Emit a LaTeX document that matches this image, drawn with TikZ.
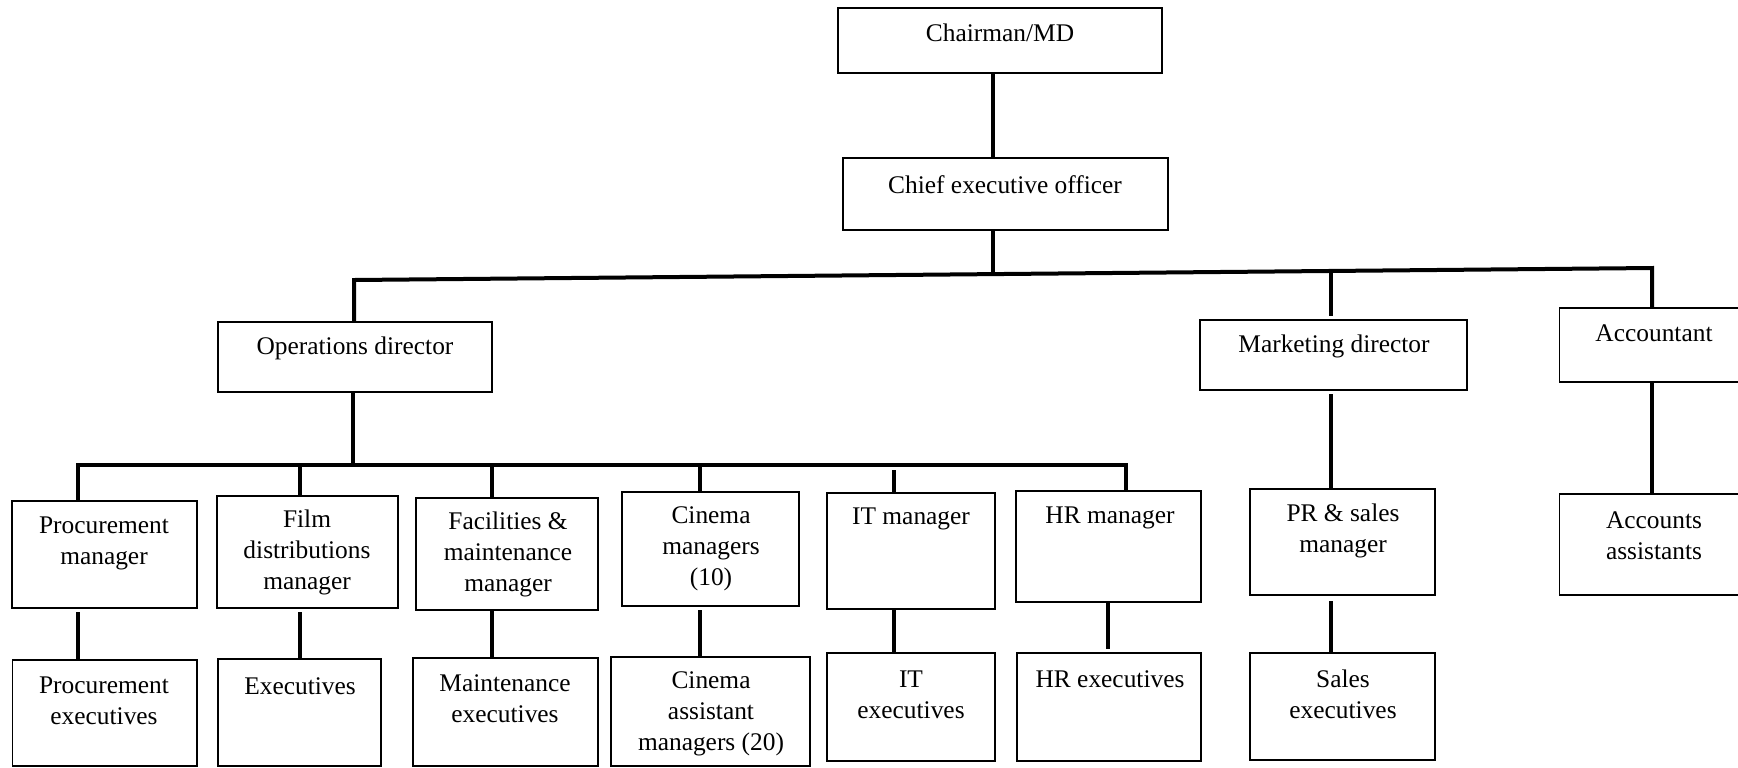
\documentclass[tikz,border=0pt]{standalone}
\usepackage{fontspec}
\setmainfont{Liberation Serif}
\usetikzlibrary{fit}
\begin{document}
\begin{tikzpicture}[x=0.5pt,y=-0.5pt,
  box/.style={draw, line width=0.6pt, inner sep=0pt, outer sep=0pt},
  lbl/.style={font=\fontsize{12.7}{15.5}\selectfont, align=center, inner sep=0pt},
  conn/.style={line width=2pt}]
\useasboundingbox (0,0) rectangle (1738,767);
\fill[white] (0,0) rectangle (1738,767);
% boxes
\node[box, fit={(838,8) (1162,73)}] (chair) {};
\node[box, fit={(843,158) (1168,230)}] (ceo) {};
\node[box, fit={(218,322) (492,392)}] (op) {};
\node[box, fit={(1200,320) (1467,390)}] (mk) {};
\node[box, fit={(1559.5,308) (1750,382)}] (acc) {};
\node[box, fit={(12,501) (197,608)}] (pm) {};
\node[box, fit={(12.5,660) (197,766)}] (pe) {};
\node[box, fit={(217,496) (398,608)}] (fd) {};
\node[box, fit={(218,659) (381,766)}] (ex) {};
\node[box, fit={(416,498) (598,610)}] (fm) {};
\node[box, fit={(413,658) (598,766)}] (me) {};
\node[box, fit={(622,492) (799,606)}] (cm) {};
\node[box, fit={(611,657) (810,766)}] (ca) {};
\node[box, fit={(827,493) (995,609)}] (it) {};
\node[box, fit={(827,653) (995,761)}] (ie) {};
\node[box, fit={(1016,491) (1201,602)}] (hr) {};
\node[box, fit={(1017,653) (1201,761)}] (he) {};
\node[box, fit={(1250,489) (1435,595)}] (pr) {};
\node[box, fit={(1250,653) (1435,760)}] (se) {};
\node[box, fit={(1559.5,494) (1750,595)}] (aa) {};
% labels
\node[lbl] (chair-t) at (1000,33) {Chairman/MD};
\node[lbl] (ceo-t) at (1005,185) {Chief executive officer};
\node[lbl] (op-t) at (355,348) {Operations director};
\node[lbl] (mk-t) at (1334,346) {Marketing director};
\node[lbl] (acc-t) at (1654,333) {Accountant};
\node[lbl] (pm-t) at (104,543) {Procurement\\manager};
\node[lbl] (pe-t) at (104,701) {Procurement\\executives};
\node[lbl] (fd-t) at (307,552) {Film\\distributions\\manager};
\node[lbl] (ex-t) at (300,686) {Executives};
\node[lbl] (fm-t) at (508,554) {Facilities \&\\maintenance\\manager};
\node[lbl] (me-t) at (505,699) {Maintenance\\executives};
\node[lbl] (cm-t) at (711,549) {Cinema\\managers\\(10)};
\node[lbl] (ca-t) at (711,714) {Cinema\\assistant\\managers (20)};
\node[lbl] (it-t) at (911,519) {IT manager};
\node[lbl] (ie-t) at (911,695) {IT\\executives};
\node[lbl] (hr-t) at (1110,518) {HR manager};
\node[lbl] (he-t) at (1110,679) {HR executives};
\node[lbl] (pr-t) at (1343,531) {PR \& sales\\manager};
\node[lbl] (se-t) at (1343,694) {Sales\\executives};
\node[lbl] (aa-t) at (1654,536) {Accounts\\assistants};
% coordinates for connectors
\coordinate (xA) at (993,0);
\coordinate (busL) at (354,280);
\coordinate (busC) at (993,274);
\coordinate (busR) at (1652,268);
\coordinate (busM) at (1331,271);
\coordinate (sbL) at (78,465);
\coordinate (sbO) at (353,465);
\coordinate (sbR) at (1126,465);
\coordinate (d2) at (300,465);
\coordinate (d3) at (492,465);
\coordinate (d4) at (700,465);
\coordinate (d5) at (894,470);
\coordinate (hx) at (1108,0);
% connectors
\draw[conn] (chair.south -| xA) -- (ceo.north -| xA);
\draw[conn] (ceo.south -| xA) -- (busC);
\draw[conn] (op.north -| busL) -- (busL) -- (busR) -- (acc.north -| busR);
\draw[conn, shorten >=2pt] (busM) -- (mk.north -| busM);
\draw[conn] (op.south -| sbO) -- (sbO);
\draw[conn] (pm.north -| sbL) -- (sbL) -- (sbR) -- (hr.north -| sbR);
\draw[conn] (d2) -- (fd.north -| d2);
\draw[conn] (d3) -- (fm.north -| d3);
\draw[conn] (d4) -- (cm.north -| d4);
\draw[conn] (d5) -- (it.north -| d5);
\draw[conn, shorten <=2pt] (pm.south -| sbL) -- (pe.north -| sbL);
\draw[conn, shorten <=2pt] (fd.south -| d2) -- (ex.north -| d2);
\draw[conn] (fm.south -| d3) -- (me.north -| d3);
\draw[conn, shorten <=2pt] (cm.south -| d4) -- (ca.north -| d4);
\draw[conn] (it.south -| d5) -- (ie.north -| d5);
\draw[conn, shorten >=2pt] (hr.south -| hx) -- (he.north -| hx);
\draw[conn, shorten <=2pt] (mk.south -| busM) -- (pr.north -| busM);
\draw[conn, shorten <=3pt] (pr.south -| busM) -- (se.north -| busM);
\draw[conn] (acc.south -| busR) -- (aa.north -| busR);
\end{tikzpicture}
\end{document}
